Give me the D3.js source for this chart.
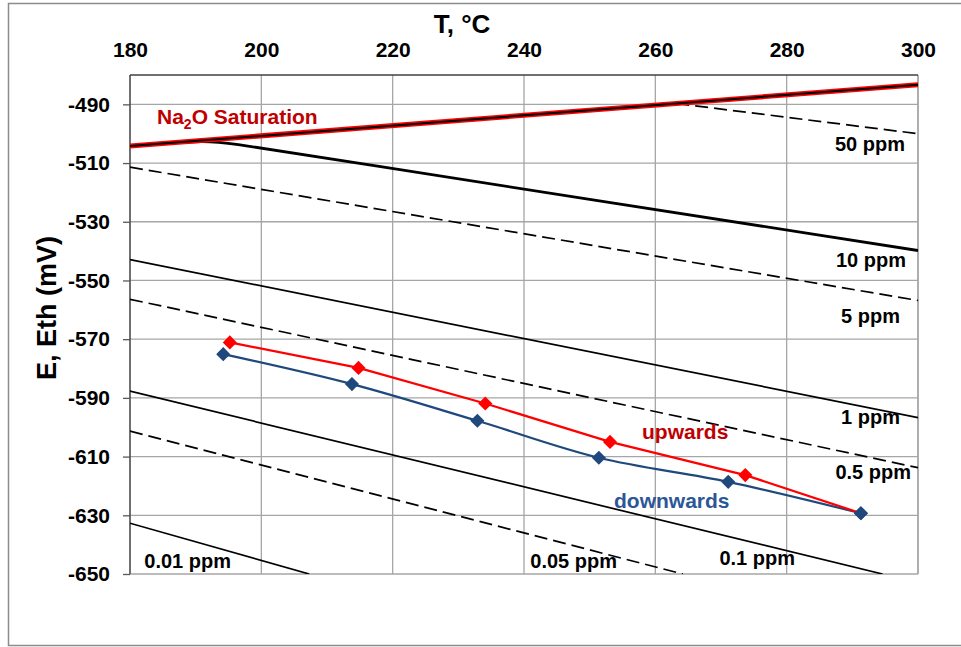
<!DOCTYPE html>
<html lang="en">
<head>
<meta charset="utf-8">
<title>E vs T</title>
<script src="https://cdn.jsdelivr.net/npm/d3@7"></script>
<style>
    body { margin: 0; background: #fff; }
    svg { font-family: "Liberation Sans", Arial, sans-serif; font-weight: bold; }
    .grid line { stroke: #a6a6a6; stroke-width: 1.3px; }
    .axis path { display: none; }
    .axis line { stroke: #595959; stroke-width: 1.3px; }
    .axis text { font-size: 21px; fill: #000; }
    .ppm { font-size: 20px; fill: #000; }
</style>
</head>
<body>
<script>
// temperature ticks and potential ticks
var tempTicks = [180, 200, 220, 240, 260, 280, 300];
var potTicks = [-490, -510, -530, -550, -570, -590, -610, -630, -650];

// measured points
var upT = [195.2, 214.8, 234.1, 253.1, 273.7, 291.3];
var upE = [-571.1, -579.8, -591.9, -605.0, -616.3, -629.3];
var downT = [194.2, 213.8, 232.9, 251.4, 271.1, 291.3];
var downE = [-575.1, -585.3, -597.8, -610.4, -618.6, -629.3];

// Na2O saturation line
var satT = [180, 300];
var satE = [-504.2, -483.3];

// iso-concentration lines
var ppmNames = ["50 ppm", "10 ppm", "5 ppm", "1 ppm", "0.5 ppm", "0.1 ppm", "0.05 ppm", "0.01 ppm"];
var ppmT = [
    [263.2, 300],
    [180, 186, 191, 196, 204, 300],
    [180, 300],
    [180, 300],
    [180, 300],
    [180, 294.6],
    [180, 264.2],
    [180, 207.3]
];
var ppmE = [
    [-489.7, -500.0],
    [-504.2, -503.2, -502.4, -503.4, -506.3, -539.8],
    [-511.4, -556.8],
    [-542.9, -596.7],
    [-556.4, -613.8],
    [-587.7, -650],
    [-601.3, -650],
    [-632.7, -650]
];
var ppmDashed = [true, false, true, false, true, false, true, false];

var W = 961, H = 647;
var svg = d3.select("body").append("svg")
    .attr("width", W)
    .attr("height", H);

// outer frame
svg.append("rect")
    .attr("x", 8.5).attr("y", 3.5)
    .attr("width", 960).attr("height", 642)
    .attr("fill", "none")
    .attr("stroke", "#8c8c8c")
    .attr("stroke-width", 1.5);

var x = d3.scaleLinear().domain([180, 300]).range([130, 918]);
var y = d3.scaleLinear().domain([-650, -480]).range([574, 75]);

// grid
var grid = svg.append("g").attr("class", "grid");
grid.selectAll(".gx").data(tempTicks.slice(1)).enter().append("line")
    .attr("x1", d => x(d)).attr("x2", d => x(d))
    .attr("y1", y(-480)).attr("y2", y(-650));
grid.selectAll(".gy").data(potTicks.slice(0, -1)).enter().append("line")
    .attr("x1", x(180)).attr("x2", x(300))
    .attr("y1", d => y(d)).attr("y2", d => y(d));

// plot border
svg.append("line").attr("x1", x(180)).attr("x2", x(300)).attr("y1", y(-650)).attr("y2", y(-650))
    .attr("stroke", "#a6a6a6").attr("stroke-width", 1.5);
svg.append("line").attr("x1", x(300)).attr("x2", x(300)).attr("y1", y(-480)).attr("y2", y(-650))
    .attr("stroke", "#a6a6a6").attr("stroke-width", 1.5);
svg.append("line").attr("x1", x(180)).attr("x2", x(300)).attr("y1", y(-480)).attr("y2", y(-480))
    .attr("stroke", "#404040").attr("stroke-width", 1.5);
svg.append("line").attr("x1", x(180)).attr("x2", x(180)).attr("y1", y(-480)).attr("y2", y(-650))
    .attr("stroke", "#404040").attr("stroke-width", 1.5);

// axes (plain hyphen minus, as in the original)
svg.append("g")
    .attr("class", "axis")
    .attr("transform", "translate(0," + y(-480) + ")")
    .call(d3.axisTop(x).tickValues(tempTicks).tickSize(0).tickPadding(18).tickFormat(d => String(d)));

svg.append("g")
    .attr("class", "axis")
    .attr("transform", "translate(" + x(180) + ",0)")
    .call(d3.axisLeft(y).tickValues(potTicks).tickSize(7).tickPadding(13).tickFormat(d => String(d)));

// axis titles
svg.append("text")
    .attr("x", 462).attr("y", 33)
    .attr("text-anchor", "middle")
    .style("font-size", "26px")
    .text("T, \u00b0C");

svg.append("text")
    .attr("transform", "translate(56,308) rotate(-90)")
    .attr("text-anchor", "middle")
    .style("font-size", "27px")
    .text("E, Eth (mV)");

// clip to plot area
svg.append("clipPath").attr("id", "plot")
    .append("rect")
    .attr("x", x(180)).attr("y", y(-480))
    .attr("width", x(300) - x(180)).attr("height", y(-650) - y(-480));

var plot = svg.append("g").attr("clip-path", "url(#plot)");

var line = d3.line().x(d => x(d[0])).y(d => y(d[1]));

// iso-concentration lines
ppmNames.forEach(function (name, i) {
    var pts = ppmT[i].map((t, j) => [t, ppmE[i][j]]);
    plot.append("path")
        .datum(pts)
        .attr("fill", "none")
        .attr("stroke", "#000")
        .attr("stroke-width", name === "10 ppm" ? 2.8 : 1.7)
        .attr("stroke-dasharray", ppmDashed[i] ? "13,6" : null)
        .attr("d", name === "10 ppm" ? line.curve(d3.curveBasis)(pts) : line.curve(d3.curveLinear)(pts));
});

// saturation line
var satPts = satT.map((t, j) => [t, satE[j]]);
plot.append("path").datum(satPts)
    .attr("fill", "none").attr("stroke", "#ff0000").attr("stroke-width", 5)
    .attr("d", line.curve(d3.curveLinear));
plot.append("path").datum(satPts)
    .attr("fill", "none").attr("stroke", "#000").attr("stroke-width", 2)
    .attr("d", line.curve(d3.curveLinear));

// measured series
var downPts = downT.map((t, j) => [t, downE[j]]);
var upPts = upT.map((t, j) => [t, upE[j]]);

svg.append("path").datum(downPts)
    .attr("fill", "none").attr("stroke", "#1f497d").attr("stroke-width", 2.25)
    .attr("d", line.curve(d3.curveCatmullRom.alpha(0.5)));
svg.append("path").datum(upPts)
    .attr("fill", "none").attr("stroke", "#ff0000").attr("stroke-width", 2.25)
    .attr("d", line.curve(d3.curveLinear));

var diamond = d3.symbol().type(d3.symbolSquare).size(100);
svg.selectAll(".mdown").data(downPts).enter().append("path")
    .attr("d", diamond)
    .attr("fill", "#1f497d")
    .attr("transform", d => "translate(" + x(d[0]) + "," + y(d[1]) + ") rotate(45)");
svg.selectAll(".mup").data(upPts.slice(0, -1)).enter().append("path")
    .attr("d", diamond)
    .attr("fill", "#ff0000")
    .attr("transform", d => "translate(" + x(d[0]) + "," + y(d[1]) + ") rotate(45)");
// last point of the down series drawn on top
svg.append("path")
    .attr("d", diamond)
    .attr("fill", "#1f497d")
    .attr("transform", "translate(" + x(downT[5]) + "," + y(downE[5]) + ") rotate(45)");

// labels
var ppmLabelPos = [[905, 151], [906, 267], [900, 323], [900, 424], [911, 479], [795, 565], [617, 568], [231, 568]];
svg.selectAll(".ppm").data(ppmNames).enter().append("text")
    .attr("class", "ppm")
    .attr("x", (d, i) => ppmLabelPos[i][0])
    .attr("y", (d, i) => ppmLabelPos[i][1])
    .attr("text-anchor", "end")
    .text(d => d);

var sat = svg.append("text")
    .attr("x", 157).attr("y", 124)
    .style("font-size", "21px")
    .attr("fill", "#c00000");
sat.append("tspan").text("Na");
sat.append("tspan").attr("dy", 5).style("font-size", "14px").text("2");
sat.append("tspan").attr("dy", -5).text("O Saturation");

svg.append("text")
    .attr("x", 642).attr("y", 439)
    .style("font-size", "21px")
    .attr("fill", "#c00000")
    .text("upwards");

svg.append("text")
    .attr("x", 614).attr("y", 508)
    .style("font-size", "21px")
    .attr("fill", "#2b5797")
    .text("downwards");
</script>
</body>
</html>
